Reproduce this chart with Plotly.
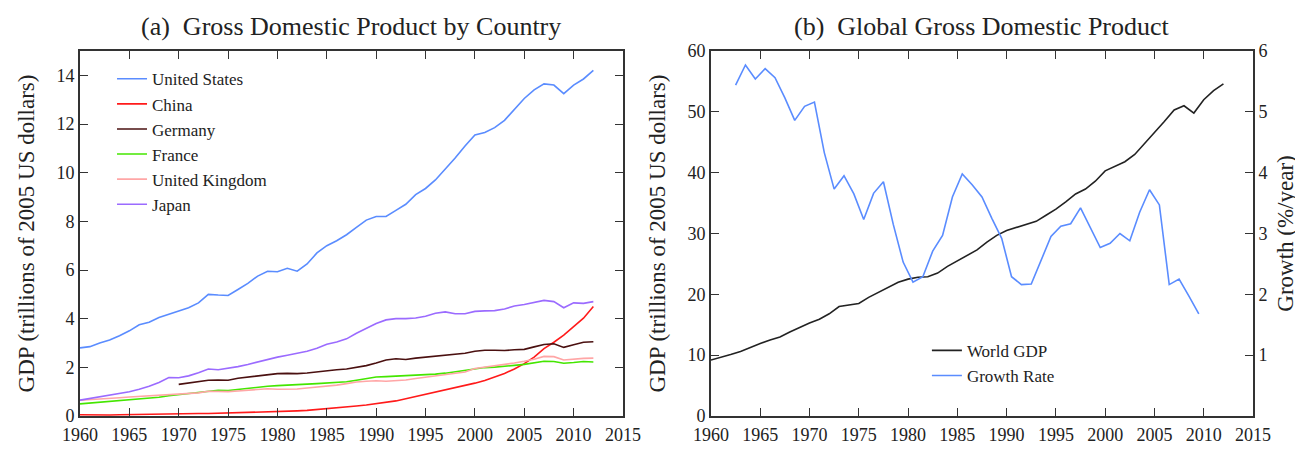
"""Two-panel GDP chart: (a) GDP by country, (b) world GDP with growth rate."""

import plotly.graph_objects as go

years = list(range(1960, 2013))

us_gdp = [
    2.80, 2.85, 3.00, 3.12, 3.30, 3.50, 3.75, 3.85, 4.05, 4.18,
    4.30, 4.45, 4.65, 5.00, 4.97, 4.95, 5.20, 5.45, 5.75, 5.95,
    5.93, 6.07, 5.95, 6.25, 6.70, 7.00, 7.20, 7.45, 7.75, 8.05,
    8.20, 8.20, 8.45, 8.70, 9.10, 9.35, 9.70, 10.15, 10.60, 11.10,
    11.55, 11.65, 11.85, 12.15, 12.60, 13.05, 13.40, 13.65, 13.60, 13.25,
    13.60, 13.85, 14.20,
]
china_gdp = [
    0.05, 0.04, 0.04, 0.04, 0.05, 0.06, 0.06, 0.06, 0.06, 0.07,
    0.09, 0.09, 0.10, 0.10, 0.11, 0.12, 0.12, 0.13, 0.15, 0.16,
    0.18, 0.19, 0.21, 0.23, 0.26, 0.30, 0.33, 0.37, 0.41, 0.45,
    0.50, 0.55, 0.62, 0.71, 0.80, 0.89, 0.98, 1.07, 1.15, 1.24,
    1.35, 1.46, 1.59, 1.75, 1.93, 2.15, 2.42, 2.77, 3.03, 3.32,
    3.67, 4.02, 4.50,
]
germany_years = list(range(1970, 2013))
germany_gdp = [
    1.30, 1.35, 1.41, 1.47, 1.48, 1.47, 1.55, 1.60, 1.65, 1.72,
    1.74, 1.75, 1.74, 1.77, 1.82, 1.86, 1.90, 1.93, 2.00, 2.07,
    2.18, 2.30, 2.35, 2.32, 2.38, 2.42, 2.44, 2.48, 2.53, 2.58,
    2.66, 2.70, 2.70, 2.69, 2.72, 2.74, 2.84, 2.94, 2.97, 2.82,
    2.93, 3.03, 3.05,
]
france_gdp = [
    0.50, 0.53, 0.56, 0.59, 0.63, 0.65, 0.69, 0.73, 0.77, 0.83,
    0.88, 0.92, 0.96, 1.02, 1.06, 1.05, 1.10, 1.14, 1.18, 1.22,
    1.25, 1.26, 1.29, 1.31, 1.33, 1.35, 1.38, 1.41, 1.47, 1.53,
    1.60, 1.62, 1.64, 1.63, 1.67, 1.70, 1.72, 1.76, 1.82, 1.88,
    1.96, 1.99, 2.01, 2.03, 2.08, 2.12, 2.18, 2.25, 2.24, 2.17,
    2.20, 2.24, 2.22,
]
uk_gdp = [
    0.65, 0.67, 0.69, 0.72, 0.75, 0.78, 0.80, 0.82, 0.85, 0.87,
    0.90, 0.92, 0.95, 1.02, 1.01, 1.00, 1.03, 1.05, 1.09, 1.12,
    1.10, 1.09, 1.11, 1.15, 1.18, 1.22, 1.27, 1.33, 1.40, 1.43,
    1.45, 1.43, 1.45, 1.48, 1.54, 1.60, 1.64, 1.69, 1.75, 1.81,
    1.95, 2.00, 2.05, 2.12, 2.18, 2.25, 2.33, 2.45, 2.44, 2.30,
    2.34, 2.37, 2.38,
]
japan_gdp = [
    0.65, 0.72, 0.78, 0.85, 0.95, 1.00, 1.10, 1.22, 1.38, 1.58,
    1.57, 1.65, 1.78, 1.93, 1.90, 1.96, 2.03, 2.12, 2.22, 2.34,
    2.42, 2.50, 2.58, 2.66, 2.78, 2.95, 3.04, 3.17, 3.40, 3.60,
    3.80, 3.95, 4.00, 4.00, 4.03, 4.10, 4.22, 4.28, 4.20, 4.20,
    4.30, 4.32, 4.33, 4.40, 4.52, 4.58, 4.65, 4.75, 4.70, 4.45,
    4.65, 4.63, 4.70,
]

world_gdp = [
    9.2, 9.6, 10.1, 10.6, 11.3, 11.9, 12.5, 13.0, 13.8, 14.6,
    15.3, 15.9, 16.8, 18.0, 18.3, 18.5, 19.5, 20.3, 21.2, 22.0,
    22.5, 22.8, 22.9, 23.5, 24.6, 25.5, 26.4, 27.3, 28.6, 29.7,
    30.5, 31.0, 31.5, 32.0, 33.0, 34.0, 35.2, 36.5, 37.3, 38.6,
    40.3, 41.0, 41.8, 43.0, 44.8, 46.5, 48.4, 50.3, 51.0, 49.8,
    52.0, 53.5, 54.6,
]
growth_years = [
    1962.5, 1963.5, 1964.5, 1965.5, 1966.5, 1967.5, 1968.5, 1969.5,
    1970.5, 1971.5, 1972.5, 1973.5, 1974.5, 1975.5, 1976.5, 1977.5,
    1978.5, 1979.5, 1980.5, 1981.5, 1982.5, 1983.5, 1984.5, 1985.5,
    1986.5, 1987.5, 1988.5, 1989.5, 1990.5, 1991.5, 1992.5, 1993.5,
    1994.5, 1995.5, 1996.5, 1997.5, 1998.5, 1999.5, 2000.5, 2001.5,
    2002.5, 2003.5, 2004.5, 2005.5, 2006.5, 2007.5, 2008.5, 2009.5,
]
growth_rate = [
    5.44, 5.77, 5.54, 5.71, 5.56, 5.23, 4.86, 5.09,
    5.16, 4.33, 3.73, 3.95, 3.65, 3.23, 3.66, 3.85,
    3.15, 2.53, 2.20, 2.29, 2.71, 2.97, 3.60, 3.98,
    3.80, 3.60, 3.25, 2.92, 2.29, 2.16, 2.17, 2.55,
    2.95, 3.12, 3.16, 3.42, 3.10, 2.77, 2.84, 3.00,
    2.88, 3.35, 3.72, 3.47, 2.16, 2.25, 1.97, 1.68,
]

FONT = "Times New Roman, Liberation Serif, serif"
INK = "#222222"
AXIS = "#333333"

countries = [
    ("United States", years, us_gdp, "#5a8cff"),
    ("China", years, china_gdp, "#ff1a1a"),
    ("Germany", germany_years, germany_gdp, "#4a1010"),
    ("France", years, france_gdp, "#44e600"),
    ("United Kingdom", years, uk_gdp, "#ffa6a6"),
    ("Japan", years, japan_gdp, "#9b6bff"),
]

fig = go.Figure()
for name, xs, ys, color in countries:
    fig.add_trace(
        go.Scatter(
            x=xs, y=ys, name=name, mode="lines",
            line={"color": color, "width": 1.6},
            xaxis="x", yaxis="y", legend="legend",
        )
    )

fig.add_trace(
    go.Scatter(
        x=years, y=world_gdp, name="World GDP", mode="lines",
        line={"color": INK, "width": 1.6},
        xaxis="x2", yaxis="y2", legend="legend2",
    )
)
fig.add_trace(
    go.Scatter(
        x=growth_years, y=growth_rate, name="Growth Rate", mode="lines",
        line={"color": "#5a8cff", "width": 1.6},
        xaxis="x2", yaxis="y3", legend="legend2",
    )
)

tick_font = {"family": FONT, "size": 18, "color": INK}
title_font = {"family": FONT, "size": 23, "color": INK}
legend_font = {"family": FONT, "size": 17, "color": INK}
year_ticks = list(range(1960, 2016, 5))
common_x = dict(
    range=[1960, 2015], tickvals=year_ticks, ticks="inside", ticklen=8,
    tickwidth=1.3, tickcolor=AXIS, showline=True, linecolor=AXIS, linewidth=1.6,
    mirror="ticks", showgrid=False, zeroline=False, tickfont=tick_font,
    ticklabelstandoff=2,
)
common_y = dict(
    ticks="inside", ticklen=8, tickwidth=1.3, tickcolor=AXIS, showline=True,
    linecolor=AXIS, linewidth=1.6, showgrid=False, zeroline=False,
    tickfont=tick_font,
)

fig.update_layout(
    width=1303,
    height=449,
    paper_bgcolor="white",
    plot_bgcolor="white",
    margin={"l": 72, "r": 58, "t": 43, "b": 24},
    font={"family": FONT, "color": INK},
    xaxis=dict(common_x, domain=[0.0, 0.4629], anchor="y"),
    yaxis=dict(
        common_y, range=[0, 15], tickvals=list(range(0, 15, 2)), mirror="ticks",
        anchor="x",
        title={"text": "GDP (trillions of 2005 US dollars)", "font": title_font,
               "standoff": 16},
    ),
    xaxis2=dict(common_x, domain=[0.5379, 1.0], anchor="y2"),
    yaxis2=dict(
        common_y, range=[0, 60], tickvals=list(range(0, 61, 10)), anchor="x2",
        title={"text": "GDP (trillions of 2005 US dollars)", "font": title_font,
               "standoff": 16},
    ),
    yaxis3=dict(
        common_y, range=[0, 6], tickvals=[1, 2, 3, 4, 5, 6], anchor="x2",
        overlaying="y2", side="right",
        title={"text": "Growth (%/year)", "font": title_font, "standoff": 10},
    ),
    legend={
        "x": 0.0273, "y": 0.972, "xanchor": "left", "yanchor": "top",
        "bgcolor": "rgba(0,0,0,0)", "font": legend_font, "tracegroupgap": 0,
    },
    legend2={
        "x": 0.722, "y": 0.228, "xanchor": "left", "yanchor": "top",
        "bgcolor": "rgba(0,0,0,0)", "font": legend_font, "tracegroupgap": 0,
    },
    showlegend=True,
)

panel_titles = [
    ("(a)  Gross Domestic Product by Country", 0.4629 / 2),
    ("(b)  Global Gross Domestic Product", (0.5379 + 1.0) / 2),
]
for text, xc in panel_titles:
    fig.add_annotation(
        text=text, xref="paper", yref="paper", x=xc, y=1.066,
        xanchor="center", yanchor="middle", showarrow=False,
        font={"family": FONT, "size": 26, "color": INK},
    )

fig.write_html("out.html")
